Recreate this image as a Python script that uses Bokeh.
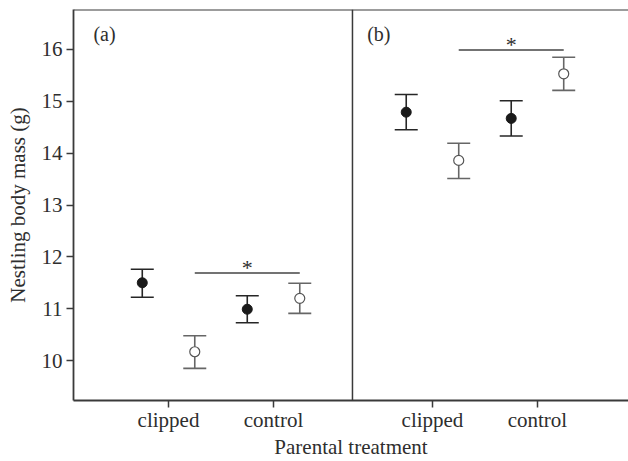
from bokeh.plotting import figure
from bokeh.models import Range1d, FixedTicker, Span, ColumnDataSource, Whisker, TeeHead
from bokeh.core.properties import value
from bokeh.embed import file_html
from bokeh.resources import INLINE

# ---- data ----
treatments = ["clipped", "control"]
panels = ["(a)", "(b)"]

filled_mean_a = [11.50, 10.99]
filled_upper_a = [11.76, 11.25]
filled_lower_a = [11.22, 10.73]
open_mean_a = [10.17, 11.20]
open_upper_a = [10.48, 11.49]
open_lower_a = [9.85, 10.91]

filled_mean_b = [14.79, 14.67]
filled_upper_b = [15.13, 15.01]
filled_lower_b = [14.45, 14.33]
open_mean_b = [13.86, 15.53]
open_upper_b = [14.19, 15.85]
open_lower_b = [13.51, 15.21]

sig_y = [11.69, 15.99]
sig_label = ["*", "*"]

y_ticks = [10, 11, 12, 13, 14, 15, 16]

# ---- layout helpers ----
panel_offset = [0.0, 2.514]
dodge = 0.25
x_start, x_end = 0.095, 5.381
y_start, y_end = 9.23, 16.77
divider = 2.752

FONT = value("Liberation Serif")
DARK = "#262626"
GREY = "#666666"
AXIS = "#3a3a3a"
TEXT = "#2e2e2e"

p = figure(width=628, height=461, output_backend="svg", toolbar_location=None,
           x_range=Range1d(x_start, x_end), y_range=Range1d(y_start, y_end),
           min_border_left=73, min_border_right=0, min_border_top=9, min_border_bottom=61)
p.grid.visible = False
p.outline_line_color = None
p.background_fill_color = "white"
p.border_fill_color = "white"

groups = [
    (panel_offset[0], filled_mean_a, filled_upper_a, filled_lower_a, open_mean_a, open_upper_a, open_lower_a),
    (panel_offset[1], filled_mean_b, filled_upper_b, filled_lower_b, open_mean_b, open_upper_b, open_lower_b),
]

tick_pos = []
tick_labels = {}
for off, fm, fu, fl, om, ou, ol in groups:
    base = [off + i + 1 for i in range(len(treatments))]
    for b, t in zip(base, treatments):
        tick_pos.append(b)
        tick_labels[b] = t
    xf = [b - dodge for b in base]
    xo = [b + dodge for b in base]
    sf = ColumnDataSource(dict(x=xf, m=fm, u=fu, l=fl))
    so = ColumnDataSource(dict(x=xo, m=om, u=ou, l=ol))
    for src, col in ((sf, DARK), (so, GREY)):
        w = Whisker(base="x", upper="u", lower="l", source=src, line_color=col, line_width=1.6,
                    upper_head=TeeHead(size=23, line_color=col, line_width=1.6),
                    lower_head=TeeHead(size=23, line_color=col, line_width=1.6))
        p.add_layout(w)
    p.scatter("x", "m", source=sf, size=10, fill_color="#1a1a1a", line_color="#1a1a1a")
    p.scatter("x", "m", source=so, size=10, fill_color="white", line_color="#555555", line_width=1.2)

# significance bars (from open clipped to open control), star over filled control
sx0 = [off + 1 + dodge for off in panel_offset]
sx1 = [off + 2 + dodge for off in panel_offset]
sxs = [off + 2 - dodge for off in panel_offset]
p.segment(x0=sx0, x1=sx1, y0=sig_y, y1=sig_y, line_color="#444444", line_width=1.4)
p.text(x=sxs, y=sig_y, text=sig_label, text_font=FONT, text_font_size="22px",
       text_align="center", text_baseline="alphabetic", y_offset=-5, text_color=TEXT)

# panel labels
p.text(x=[x_start + 0.19, divider + 0.14], y=[16.29, 16.29], text=panels, text_font=FONT,
       text_font_size="20px", text_align="left", text_baseline="middle", text_color=TEXT)

# frame lines
p.add_layout(Span(location=divider, dimension="height", line_color=AXIS, line_width=1.5))
p.add_layout(Span(location=y_end, dimension="width", line_color=AXIS, line_width=1.8))

# axes
p.xaxis.ticker = FixedTicker(ticks=tick_pos)
p.xaxis.major_label_overrides = tick_labels
p.xaxis.minor_tick_line_color = None
p.yaxis.ticker = FixedTicker(ticks=y_ticks)
p.yaxis.minor_tick_line_color = None
for ax in (p.xaxis, p.yaxis):
    ax.axis_line_color = AXIS
    ax.axis_line_width = 1.8
    ax.major_tick_line_color = AXIS
    ax.major_tick_line_width = 1.5
    ax.major_tick_in = 0
    ax.major_tick_out = 7
    ax.major_label_text_font = "Liberation Serif"
    ax.major_label_text_font_size = "21px"
    ax.major_label_text_color = TEXT
    ax.axis_label_text_font = "Liberation Serif"
    ax.axis_label_text_font_size = "21px"
    ax.axis_label_text_font_style = "normal"
    ax.axis_label_text_color = TEXT
p.yaxis.major_label_standoff = 4
p.xaxis.major_label_standoff = 0
p.yaxis.axis_label = "Nestling body mass (g)"
p.yaxis.axis_label_standoff = 9
p.xaxis.axis_label = "Parental treatment"
p.xaxis.axis_label_standoff = 0

open("out.html", "w").write(file_html(p, INLINE))
